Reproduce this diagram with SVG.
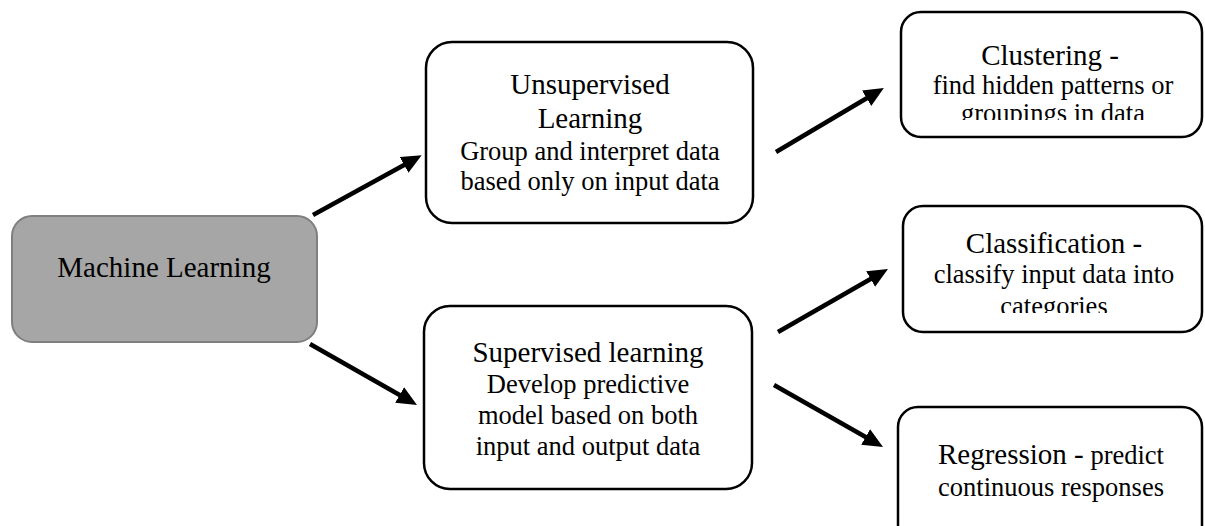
<svg xmlns="http://www.w3.org/2000/svg" width="1205" height="526" viewBox="0 0 1205 526">
<style>
.box{fill:#ffffff;stroke:#000000;stroke-width:2.5}
.root{fill:#a6a6a6;stroke:#7f7f7f;stroke-width:2}
.t{font-family:"Liberation Serif","Times New Roman",serif;fill:#000;text-anchor:middle}
.h{font-size:29px}
.d{font-size:26.5px}
.arr{stroke:#000;stroke-width:4.5;fill:none;marker-end:url(#ah)}
</style>
<defs>
<marker id="ah" markerUnits="userSpaceOnUse" markerWidth="22" markerHeight="20" refX="1" refY="9" orient="auto">
<path d="M0,0 L20,9 L0,18 z" fill="#000"/>
</marker>
<clipPath id="clipC"><rect x="900" y="0" width="305" height="120"/></clipPath>
<clipPath id="clipK"><rect x="900" y="200" width="305" height="113"/></clipPath>
</defs>
<g id="connectors">
<line class="arr" x1="313" y1="215" x2="405" y2="164.5"/>
<line class="arr" x1="310" y1="344" x2="400.5" y2="395.5"/>
<line class="arr" x1="776" y1="152" x2="867.5" y2="97.8"/>
<line class="arr" x1="778" y1="332" x2="871.5" y2="278.5"/>
<line class="arr" x1="774" y1="385" x2="866.5" y2="437.5"/>
</g>
<g id="machine-learning">
<rect class="root" x="12" y="216" width="305" height="126" rx="20" ry="20"/>
<text class="t h" x="164" y="277">Machine Learning</text>
</g>
<g id="unsupervised">
<rect class="box" x="426" y="42" width="327" height="181" rx="26" ry="26"/>
<text class="t h" x="590" y="94">Unsupervised</text>
<text class="t h" x="590" y="128">Learning</text>
<text class="t d" x="590" y="160">Group and interpret data</text>
<text class="t d" x="590" y="190">based only on input data</text>
</g>
<g id="supervised">
<rect class="box" x="424" y="306" width="328" height="183" rx="26" ry="26"/>
<text class="t h" x="588" y="362">Supervised learning</text>
<text class="t d" x="588" y="393">Develop predictive</text>
<text class="t d" x="588" y="424">model based on both</text>
<text class="t d" x="588" y="455">input and output data</text>
</g>
<g id="clustering">
<rect class="box" x="901" y="12" width="301" height="125" rx="20" ry="20"/>
<g clip-path="url(#clipC)">
<text class="t h" x="1050" y="65">Clustering -</text>
<text class="t d" x="1053" y="94">find hidden patterns or</text>
<text class="t d" x="1053" y="122">groupings in data</text>
</g>
</g>
<g id="classification">
<rect class="box" x="903" y="206" width="299" height="126" rx="20" ry="20"/>
<g clip-path="url(#clipK)">
<text class="t h" x="1054" y="253">Classification -</text>
<text class="t d" x="1054" y="283">classify input data into</text>
<text class="t d" x="1054" y="315">categories</text>
</g>
</g>
<g id="regression">
<rect class="box" x="898" y="407" width="304" height="150" rx="20" ry="20"/>
<text class="t" x="1051" y="464"><tspan class="h">Regression -</tspan><tspan class="d"> predict</tspan></text>
<text class="t d" x="1051" y="496">continuous responses</text>
</g>
</svg>
